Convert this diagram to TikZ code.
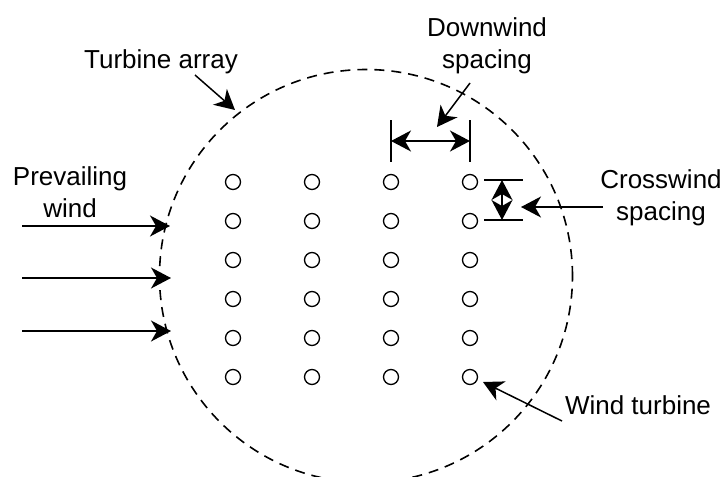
\documentclass[tikz,border=0pt]{standalone}
\usepackage{fontspec}
\setmainfont{Liberation Sans}
\usetikzlibrary{arrows.meta}
\begin{document}
\begin{tikzpicture}[x=1pt,y=-1pt,
  lbl/.style={font=\fontsize{26}{32}\selectfont, inner sep=0pt, align=center, anchor=base},
  turb/.style={draw, circle, minimum size=15pt, inner sep=0pt, line width=1.3pt},
  head/.tip={Stealth[length=20pt,width=21pt,inset=6pt]},
  arr/.style={line width=1.5pt, -head},
  dimarr/.style={line width=1.5pt, head-head},
  tickline/.style={line width=1.5pt},
  boundary/.style={draw, circle, minimum size=413pt, inner sep=0pt, line width=1.6pt, dash pattern=on 10pt off 7pt}]
\useasboundingbox (0,0) rectangle (721,477);
% turbine array boundary
\node[boundary] (array) at (366,276) {};
% turbines
\foreach \c [count=\i] in {233,312,391,470}
  \foreach \r [count=\j] in {182,221,260,299,338,377}
    \node[turb] (t\i-\j) at (\c,\r) {};
% labels (base anchor = baseline of last line)
\node[lbl] (ltarray) at (161,68) {Turbine array};
\node[lbl] (lwind) at (70,217) {Prevailing\\wind};
\node[lbl] (ldown) at (487,68) {Downwind\\spacing};
\node[lbl] (lcross) at (661,220) {Crosswind\\spacing};
\node[lbl] (lturb) at (638,414) {Wind turbine};
% coordinates
\coordinate (ta0) at (195,75);
\coordinate (ta1) at (235,110);
\coordinate (w1a) at (22,226);  \coordinate (w1b) at (170,226);
\coordinate (w2a) at (22,278);  \coordinate (w2b) at (171,278);
\coordinate (w3a) at (22,331);  \coordinate (w3b) at (171,331);
\coordinate (dl1) at (391,120); \coordinate (dl2) at (391,162);
\coordinate (dr1) at (470,120); \coordinate (dr2) at (470,162);
\coordinate (da) at (391,141);  \coordinate (db) at (470,141);
\coordinate (dn0) at (470,83);  \coordinate (dn1) at (437,127);
\coordinate (ct1) at (484,180); \coordinate (ct2) at (523,180);
\coordinate (cb1) at (484,220); \coordinate (cb2) at (523,220);
\coordinate (ca) at (502,180);  \coordinate (cb) at (502,220);
\coordinate (cr0) at (603,207); \coordinate (cr1) at (521,207);
\coordinate (wt0) at (562,421); \coordinate (wt1) at (483,382);
% arrows
\draw[arr] (ta0) -- (ta1);
\draw[arr] (w1a) -- (w1b);
\draw[arr] (w2a) -- (w2b);
\draw[arr] (w3a) -- (w3b);
\draw[tickline] (dl1) -- (dl2);
\draw[tickline] (dr1) -- (dr2);
\draw[dimarr] (da) -- (db);
\draw[arr] (dn0) -- (dn1);
\draw[tickline] (ct1) -- (ct2);
\draw[tickline] (cb1) -- (cb2);
\draw[dimarr] (ca) -- (cb);
\draw[arr] (cr0) -- (cr1);
\draw[arr] (wt0) -- (wt1);
\end{tikzpicture}
\end{document}
